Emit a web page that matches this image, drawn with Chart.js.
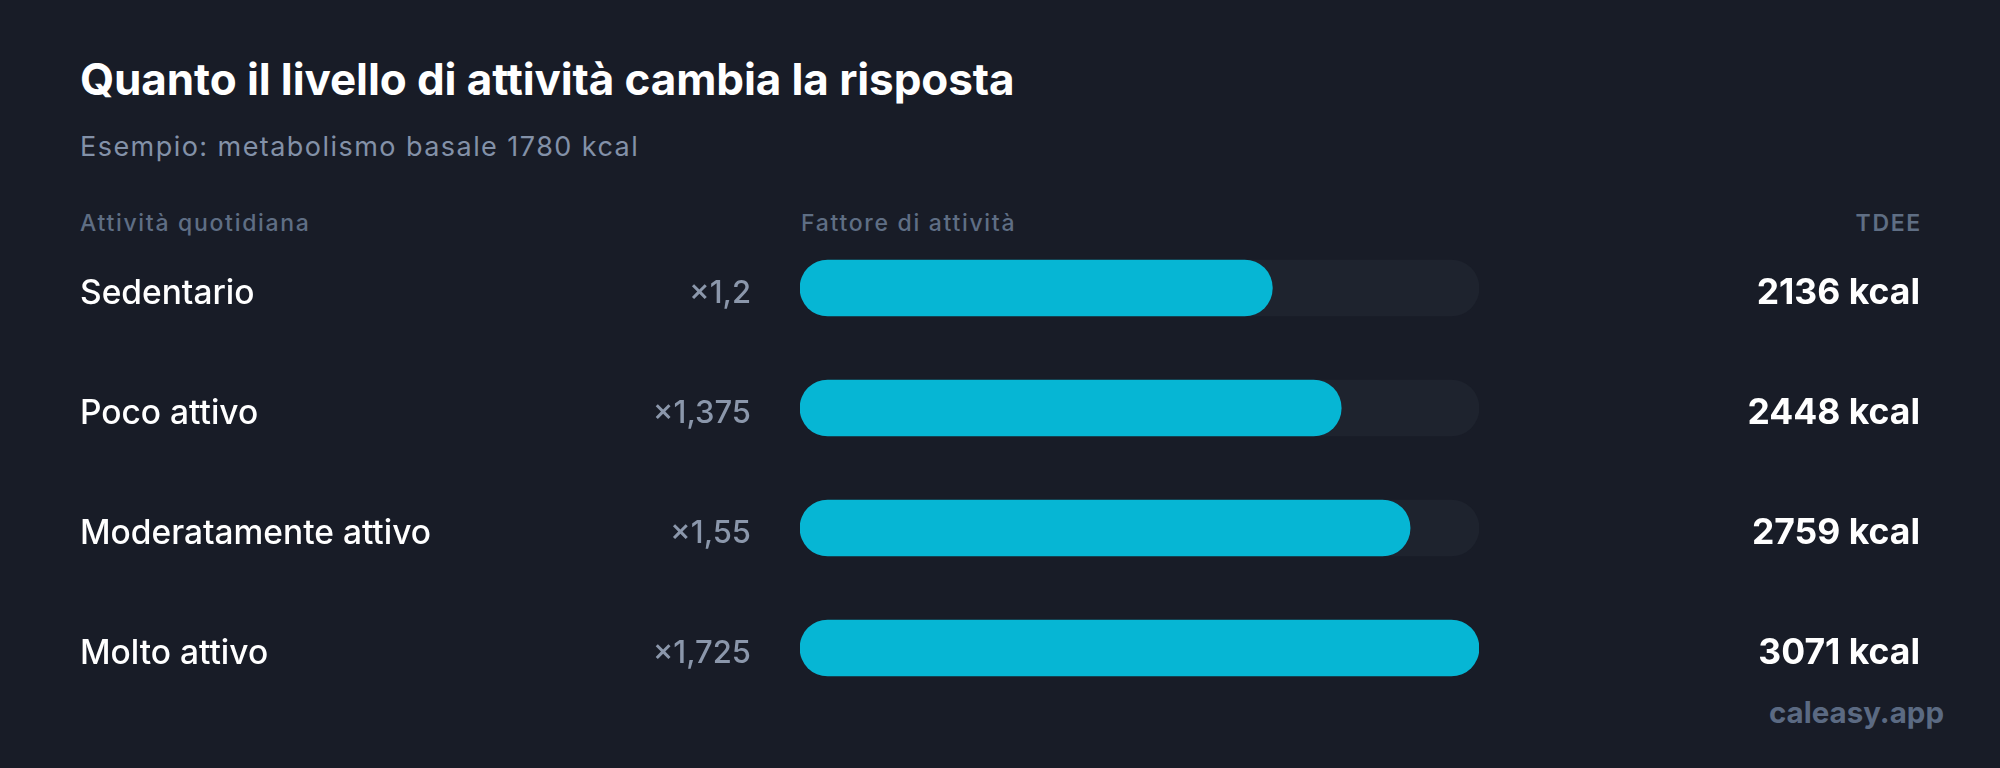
<!DOCTYPE html>
<html lang="it">
<head>
<meta charset="utf-8">
<title>Quanto il livello di attività cambia la risposta</title>
<script src="https://cdn.jsdelivr.net/npm/chart.js@4.4.1/dist/chart.umd.min.js"></script>
<style>
  html, body { margin: 0; padding: 0; }
  body {
    width: 2000px;
    height: 768px;
    background: #181c27;
    font-family: Inter, "Noto Sans", sans-serif;
    position: relative;
    overflow: hidden;
  }
  .txt { position: absolute; line-height: 1; white-space: nowrap; }
  .title { left: 80px; top: 57px; font-size: 44px; font-weight: 700; color: #ffffff; letter-spacing: -0.1px; }
  .subtitle { left: 80px; top: 133px; font-size: 27px; font-weight: 400; color: #8391a8; letter-spacing: 1.45px; }
  .head { top: 212px; font-size: 23px; font-weight: 500; color: #5f6e84; letter-spacing: 1.7px; }
  .brand { right: 56px; top: 698px; font-size: 29.5px; font-weight: 700; color: #5b6a82; }
  #chartWrap { position: absolute; left: 0; top: 0; width: 2000px; height: 768px; }
</style>
</head>
<body>
  <div class="txt title">Quanto il livello di attività cambia la risposta</div>
  <div class="txt subtitle">Esempio: metabolismo basale 1780 kcal</div>
  <div class="txt head" style="left:80px">Attività quotidiana</div>
  <div class="txt head" style="left:801px">Fattore di attività</div>
  <div class="txt head" style="right:78px; font-weight:600">TDEE</div>
  <div class="txt brand">caleasy.app</div>

  <div id="chartWrap"><canvas id="chart"></canvas></div>

<script>
  // data
  const activityLevels = ["Sedentario", "Poco attivo", "Moderatamente attivo", "Molto attivo"];
  const activityFactors = [1.2, 1.375, 1.55, 1.725];
  const tdeeKcal = [2136, 2448, 2759, 3071];

  const factorLabels = activityFactors.map((f) => "×" + String(f).replace(".", ","));
  const tdeeLabels = tdeeKcal.map((v) => v + " kcal");
  const maxFactor = Math.max(...activityFactors);
  const trackValues = activityFactors.map(() => maxFactor);

  const fontFamily = "Inter, 'Noto Sans', sans-serif";

  const ctx = document.getElementById("chart").getContext("2d");
  new Chart(ctx, {
    type: "bar",
    data: {
      labels: activityLevels,
      datasets: [
        {
          label: "Fattore di attività",
          data: activityFactors,
          backgroundColor: "#06b6d4",
          borderRadius: 28,
          borderSkipped: false,
          barThickness: 56,
          grouped: false,
          order: 1,
        },
        {
          label: "track",
          data: trackValues,
          backgroundColor: "#1e232e",
          borderRadius: 28,
          borderSkipped: false,
          barThickness: 56,
          grouped: false,
          order: 2,
        },
      ],
    },
    options: {
      indexAxis: "y",
      responsive: true,
      maintainAspectRatio: false,
      animation: false,
      layout: { padding: { top: 228, bottom: 60, left: 80, right: 80 } },
      plugins: { legend: { display: false }, tooltip: { enabled: false } },
      scales: {
        x: { display: false, min: 0, max: maxFactor },
        y: {
          position: "left",
          weight: 2,
          afterFit: (scale) => { scale.width = 520; },
          grid: { display: false, drawTicks: false },
          border: { display: false },
          ticks: {
            crossAlign: "far",
            labelOffset: 6,
            color: "#ffffff",
            font: { family: fontFamily, size: 33.5, weight: 500 },
          },
        },
        yf: {
          type: "category",
          labels: factorLabels,
          position: "left",
          offset: true,
          weight: 1,
          afterFit: (scale) => { scale.width = 200; },
          // gap to the bars comes from the (hidden) tick length, so ticks.padding
          // doesn't eat into the chart area
          grid: { display: false, drawTicks: true, tickLength: 49 },
          border: { display: false },
          ticks: {
            crossAlign: "near",
            padding: 0,
            labelOffset: 6,
            color: "#8b97ab",
            font: { family: fontFamily, size: 31, weight: 500 },
          },
        },
        yr: {
          type: "category",
          labels: tdeeLabels,
          position: "right",
          offset: true,
          afterFit: (scale) => { scale.width = 441; },
          grid: { display: false, drawTicks: false },
          border: { display: false },
          ticks: {
            crossAlign: "far",
            labelOffset: 5,
            color: "#ffffff",
            font: { family: fontFamily, size: 35.5, weight: 700 },
          },
        },
      },
    },
  });
</script>
</body>
</html>
